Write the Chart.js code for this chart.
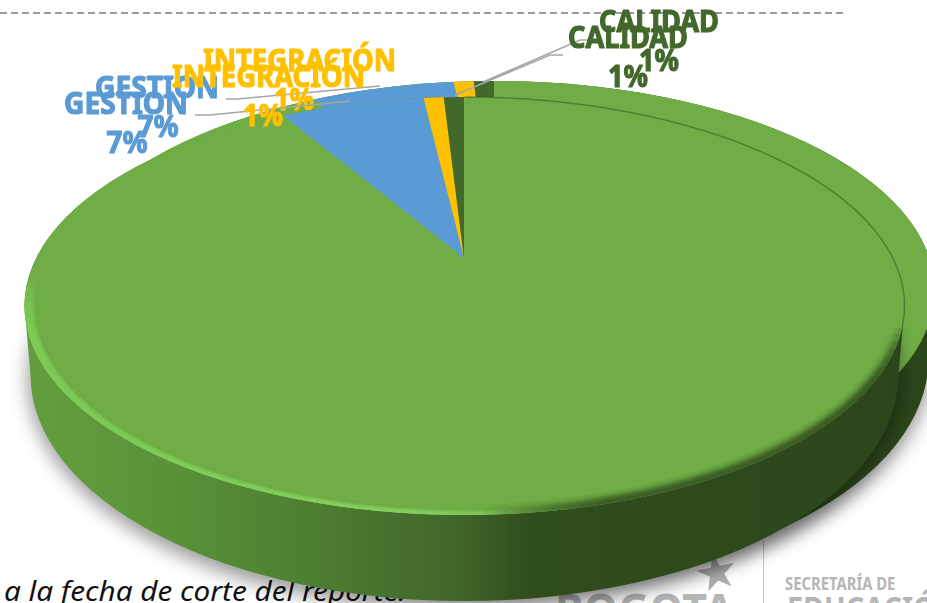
<!DOCTYPE html>
<html lang="es">
<head>
<meta charset="utf-8">
<title>Distribución</title>
<script src="https://cdn.jsdelivr.net/npm/chart.js@4"></script>
<style>
html,body{margin:0;padding:0;background:#fff;width:927px;height:603px;overflow:hidden;}
canvas{position:absolute;left:0;top:0;}
.t{position:absolute;white-space:nowrap;}
#dash{position:absolute;left:0;top:12px;width:845px;height:2px;background:repeating-linear-gradient(90deg,#9a9a9a 0 7px,transparent 7px 11px);}
#foot{left:4px;top:572px;font:italic 27px "Noto Sans",sans-serif;color:#111;transform-origin:left top;transform:scaleX(1.1);}
#bog{left:555px;top:578px;font:bold 46px "Noto Sans",sans-serif;color:#b5b5b5;transform-origin:left top;transform:scaleX(.94);}
#star{left:694px;top:543px;font:50px "DejaVu Sans",sans-serif;color:#b0b0b0;transform:rotate(-12deg);}
#vl{position:absolute;left:763px;top:541px;width:1px;height:62px;background:#c4c4c4;}
#sec{left:785px;top:570px;font:bold 18.5px "Noto Sans",sans-serif;color:#b5b5b5;transform-origin:left top;transform:scaleX(.8);}
#edu{left:787px;top:585px;font:bold 33px "Noto Sans",sans-serif;color:#b5b5b5;transform-origin:left top;transform:scaleX(.87);}
</style>
</head>
<body>
<div id="dash"></div>
<div class="t" id="foot">a la fecha de corte del reporte.</div>
<div class="t" id="bog">BOGOTA</div>
<div class="t" id="star">★</div>
<div id="vl"></div>
<div class="t" id="sec">SECRETARÍA DE</div>
<div class="t" id="edu">EDUCACIÓN</div>
<canvas id="back" width="927" height="603"></canvas>
<canvas id="front" width="927" height="603"></canvas>
<script>
const categories = ['', 'GESTION', 'INTEGRACIÓN', 'CALIDAD'];
const percentages = [91, 7, 1, 1];
const sliceColors = ['#70AD47', '#5B9BD5', '#FFC000', '#43682B'];

// layout of the two stacked copies of the 3D pie
const RX = 440, RY = 209;                 // top face
const BRX = 434, BRY = 226, BDY = 69;     // base outline relative to the face centre
const layers = {
  back:  {cx: 494.5, cy: 290, ax: 494, ay: 242, rim: false},
  front: {cx: 464.5, cy: 306, ax: 464, ay: 258, rim: true}
};
// label placement for the front copy: [centre x, name baseline, width, value centre x, value baseline, value width]
const labelBoxes = {
  1: [126, 114, 124, 127, 153, 41],
  2: [268.5, 87, 193, 263, 126, 40],
  3: [628, 48, 120, 628, 87, 40]
};
const leaderLines = {
  front: [[[195,115],[210,115],[350,101]], [[563,55],[550,55],[455,95]]],
  back:  [[[226,99],[237,99],[380,86]], [[590,40],[580,40],[483,82]]]
};
const backOffset = [31, -16];
const lightSteps = [-24, -17, -10, -3, 4, 11, 18, 25];
const darkSteps = [70, 60, 50, 42, 35, 28, 22];

function cylinderPath(ctx, l) {
  ctx.beginPath();
  ctx.ellipse(l.cx, l.cy, RX, RY, 0, 0, Math.PI * 2);
  ctx.closePath();
  ctx.ellipse(l.cx, l.cy + BDY, BRX, BRY, 0, 0, Math.PI * 2);
  ctx.closePath();
  ctx.moveTo(l.cx - RX, l.cy);
  ctx.lineTo(l.cx + RX, l.cy);
  ctx.lineTo(l.cx + BRX, l.cy + BDY);
  ctx.lineTo(l.cx - BRX, l.cy + BDY);
  ctx.closePath();
}

function bandPath(ctx, l, inset, insetY) {
  ctx.beginPath();
  ctx.ellipse(l.cx, l.cy, RX + 4, RY + 2, 0, 0, Math.PI * 2);
  ctx.closePath();
  ctx.ellipse(l.cx, l.cy, RX - inset, RY - insetY, 0, 0, Math.PI * 2);
  ctx.closePath();
}

const pie3d = {
  id: 'pie3d',
  beforeDatasetsDraw(chart, args, opts) {
    const ctx = chart.ctx, l = opts.layer;
    ctx.save();
    // soft shadow below the base
    ctx.save();
    ctx.filter = 'blur(9px)';
    ctx.fillStyle = 'rgba(0,0,0,0.38)';
    ctx.beginPath();
    ctx.ellipse(l.cx, l.cy + BDY + 4, BRX + 3, BRY + 6, 0, 0, Math.PI * 2);
    ctx.fill();
    ctx.restore();
    // side wall
    const g = ctx.createLinearGradient(l.cx - RX, 0, l.cx + RX, 0);
    g.addColorStop(0, '#629e3d');
    g.addColorStop(0.15, '#5a9439');
    g.addColorStop(0.32, '#4e7f32');
    g.addColorStop(0.49, '#41662a');
    g.addColorStop(0.575, '#304d1e');
    g.addColorStop(1, '#2c461b');
    ctx.fillStyle = g;
    cylinderPath(ctx, l);
    ctx.fill();
    // top face: slices drawn by the library, squashed and clipped to the ellipse
    ctx.beginPath();
    ctx.ellipse(l.cx, l.cy, RX, RY, 0, 0, Math.PI * 2);
    ctx.fillStyle = sliceColors[0];
    ctx.fill();
    ctx.clip();
    const arc = chart.getDatasetMeta(0).data[0];
    ctx.translate(l.ax, l.ay);
    ctx.scale(2, 1);
    ctx.translate(-arc.x, -arc.y);
  },
  afterDatasetsDraw(chart, args, opts) {
    const ctx = chart.ctx, l = opts.layer;
    ctx.restore();
    if (!l.rim) return;
    // bevel of the front face
    ctx.save();
    ctx.beginPath();
    ctx.ellipse(l.cx, l.cy, RX, RY, 0, 0, Math.PI * 2);
    ctx.clip();
    const light = ctx.createLinearGradient(l.cx - RX, 0, l.cx + 120, 0);
    light.addColorStop(0, 'rgba(128,208,90,1)');
    light.addColorStop(0.7, 'rgba(140,214,104,1)');
    light.addColorStop(1, 'rgba(140,214,104,0)');
    const dark = ctx.createLinearGradient(l.cx + 20, 0, l.cx + 140, 0);
    dark.addColorStop(0, 'rgba(45,71,27,0)');
    dark.addColorStop(1, 'rgba(45,71,27,1)');
    lightSteps.forEach(y => {
      ctx.save();
      ctx.beginPath();
      ctx.rect(0, l.cy + y, 927, 400);
      ctx.clip();
      ctx.globalAlpha = 0.2;
      ctx.filter = 'blur(1.5px)';
      ctx.fillStyle = light;
      bandPath(ctx, l, 9, 3.5);
      ctx.fill('evenodd');
      ctx.restore();
    });
    darkSteps.forEach(y => {
      ctx.save();
      ctx.beginPath();
      ctx.rect(0, l.cy + y, 927, 400);
      ctx.clip();
      ctx.globalAlpha = 0.25;
      ctx.filter = 'blur(3px)';
      ctx.fillStyle = dark;
      bandPath(ctx, l, 5, 5);
      ctx.fill('evenodd');
      ctx.restore();
    });
    ctx.restore();
    // thin dark edge against the back copy
    ctx.save();
    ctx.strokeStyle = 'rgba(60,95,38,0.55)';
    ctx.lineWidth = 1.5;
    ctx.beginPath();
    ctx.ellipse(l.cx, l.cy, RX, RY, 0, -Math.PI / 2, 0.1);
    ctx.stroke();
    ctx.restore();
  },
  afterDraw(chart, args, opts) {
    const ctx = chart.ctx, key = opts.key;
    const off = key === 'back' ? backOffset : [0, 0];
    ctx.save();
    ctx.strokeStyle = '#a6a6a6';
    ctx.lineWidth = 1.5;
    leaderLines[key].forEach(p => {
      ctx.beginPath();
      p.forEach((q, i) => i ? ctx.lineTo(q[0], q[1]) : ctx.moveTo(q[0], q[1]));
      ctx.stroke();
    });
    ctx.textAlign = 'center';
    ctx.textBaseline = 'alphabetic';
    ctx.font = 'bold 31px "Noto Sans", sans-serif';
    ctx.lineWidth = 1.2;
    ctx.lineJoin = 'round';
    Object.keys(labelBoxes).forEach(i => {
      const b = labelBoxes[i];
      ctx.fillStyle = sliceColors[i];
      ctx.strokeStyle = sliceColors[i];
      ctx.fillText(categories[i], b[0] + off[0], b[1] + off[1], b[2]);
      ctx.strokeText(categories[i], b[0] + off[0], b[1] + off[1], b[2]);
      ctx.fillText(percentages[i] + '%', b[3] + off[0], b[4] + off[1], b[5]);
      ctx.strokeText(percentages[i] + '%', b[3] + off[0], b[4] + off[1], b[5]);
    });
    ctx.restore();
  }
};

function makePie(id) {
  return new Chart(document.getElementById(id), {
    type: 'pie',
    data: {
      labels: categories,
      datasets: [{data: percentages, backgroundColor: sliceColors, borderWidth: 0, clip: false}]
    },
    options: {
      responsive: false,
      animation: false,
      rotation: 0,
      layout: {padding: 0},
      plugins: {
        legend: {display: false},
        tooltip: {enabled: false},
        pie3d: {layer: layers[id], key: id}
      }
    },
    plugins: [pie3d]
  });
}
makePie('back');
makePie('front');
</script>
</body>
</html>
